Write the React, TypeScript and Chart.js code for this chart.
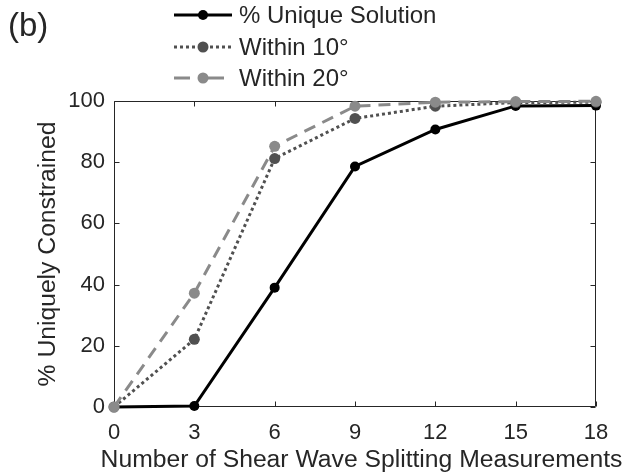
import React, { useEffect, useRef } from "react";
import { Chart, registerables } from "chart.js";

Chart.register(...registerables);

// ---- data ----
const xValues = [0, 3, 6, 9, 12, 15, 18];
const uniqueSolution = [0, 0.3, 39, 78.6, 90.7, 98.4, 98.5];
const within10 = [0, 22.1, 81.2, 94.3, 98.3, 99.5, 99.6];
const within20 = [0, 37.2, 85.2, 98.3, 99.6, 99.8, 99.9];
const seriesLabels = ["% Unique Solution", "Within 10°", "Within 20°"];
const xTicks = [0, 3, 6, 9, 12, 15, 18];
const yTicks = [0, 20, 40, 60, 80, 100];
const panelLabel = "(b)";
const xTitle = "Number of Shear Wave Splitting Measurements";
const yTitle = "% Uniquely Constrained";

const FONT = "'Liberation Sans', Arial, Helvetica, sans-serif";
const TEXT = "#262626";
const TITLE_SIZE = 24.7;

const styles = [
  { color: "#000000", dash: [] as number[], legendDash: [] as number[], width: 3, radius: 5 },
  { color: "#505050", dash: [3, 3], legendDash: [3, 3], width: 3, radius: 5.5 },
  { color: "#8a8a8a", dash: [12, 8], legendDash: [16, 18], width: 3, radius: 5.5 },
];

const boxPlugin = {
  id: "boxAxes",
  beforeDatasetsDraw(chart: any) {
    const { ctx, chartArea: a, scales } = chart;
    ctx.save();
    ctx.strokeStyle = TEXT;
    ctx.lineWidth = 1;
    const L = Math.round(a.left) + 0.5;
    const R = Math.round(a.right) - 0.5;
    const T = Math.round(a.top) + 0.5;
    const B = Math.round(a.bottom) - 0.5;
    ctx.beginPath();
    ctx.rect(L, T, R - L, B - T);
    ctx.stroke();
    const tl = 5;
    ctx.beginPath();
    xTicks.forEach((v) => {
      const px = Math.round(scales.x.getPixelForValue(v)) + 0.5;
      ctx.moveTo(px, B);
      ctx.lineTo(px, B - tl);
      ctx.moveTo(px, T);
      ctx.lineTo(px, T + tl);
    });
    yTicks.forEach((v) => {
      const py = Math.round(scales.y.getPixelForValue(v)) + 0.5;
      ctx.moveTo(L, py);
      ctx.lineTo(L + tl, py);
      ctx.moveTo(R, py);
      ctx.lineTo(R - tl, py);
    });
    ctx.stroke();
    ctx.restore();
  },
  afterDraw(chart: any) {
    const { ctx, chartArea: a } = chart;
    ctx.save();
    // panel label
    ctx.fillStyle = TEXT;
    ctx.font = `33px ${FONT}`;
    ctx.textBaseline = "middle";
    ctx.textAlign = "left";
    ctx.fillText(panelLabel, 8, 27);
    // x axis title (drawn here so it can be wider than the plot area)
    ctx.font = `${TITLE_SIZE}px ${FONT}`;
    ctx.textAlign = "center";
    ctx.fillText(xTitle, (a.left + a.right) / 2 + 6.5, 460);
    ctx.textAlign = "left";
    // legend
    const rows = [15, 47, 78];
    const x0 = 174, x1 = 232, xm = 203, xt = 239;
    seriesLabels.forEach((lab, i) => {
      const s = styles[i];
      const y = rows[i];
      ctx.strokeStyle = s.color;
      ctx.lineWidth = s.width;
      ctx.setLineDash(s.legendDash);
      ctx.beginPath();
      ctx.moveTo(x0, y);
      ctx.lineTo(x1, y);
      ctx.stroke();
      ctx.setLineDash([]);
      ctx.fillStyle = s.color;
      ctx.beginPath();
      ctx.arc(xm, y, s.radius, 0, Math.PI * 2);
      ctx.fill();
      ctx.fillStyle = TEXT;
      ctx.font = `24px ${FONT}`;
      ctx.textBaseline = "middle";
      ctx.fillText(lab, xt, y + 1);
    });
    ctx.restore();
  },
};

export default function App() {
  const ref = useRef<HTMLCanvasElement | null>(null);
  useEffect(() => {
    if (!ref.current) return;
    const series = [uniqueSolution, within10, within20];
    const orders = [2, 1, 0];
    const chart = new Chart(ref.current, {
      type: "line",
      data: {
        datasets: series.map((vals, i) => ({
          label: seriesLabels[i],
          data: xValues.map((x, j) => ({ x, y: vals[j] })),
          borderColor: styles[i].color,
          backgroundColor: styles[i].color,
          pointBackgroundColor: styles[i].color,
          pointBorderColor: styles[i].color,
          pointRadius: styles[i].radius,
          pointBorderWidth: 0,
          borderWidth: styles[i].width,
          borderDash: styles[i].dash,
          borderCapStyle: "butt",
          tension: 0,
          fill: false,
          clip: false,
          order: orders[i],
        })) as any,
      },
      options: {
        animation: false,
        responsive: false,
        devicePixelRatio: 1,
        layout: { padding: { left: 0, top: 101, right: 31, bottom: 0 } },
        plugins: {
          legend: { display: false },
          tooltip: { enabled: false },
        },
        scales: {
          x: {
            type: "linear",
            min: 0,
            max: 18,
            afterFit: (s: any) => {
              s.height = 68;
            },
            afterBuildTicks: (s: any) => {
              s.ticks = xTicks.map((v) => ({ value: v }));
            },
            grid: { display: false, drawTicks: false },
            border: { display: false },
            ticks: {
              padding: 13,
              color: TEXT,
              font: { family: FONT, size: 22 },
              maxRotation: 0,
            },
            title: { display: false, text: xTitle },
          },
          y: {
            type: "linear",
            min: 0,
            max: 100,
            afterFit: (s: any) => {
              s.width = 114;
            },
            afterBuildTicks: (s: any) => {
              s.ticks = yTicks.map((v) => ({ value: v }));
            },
            grid: { display: false, drawTicks: false },
            border: { display: false },
            ticks: {
              padding: 9,
              color: TEXT,
              font: { family: FONT, size: 22 },
            },
            title: {
              display: true,
              text: yTitle,
              color: TEXT,
              font: { family: FONT, size: TITLE_SIZE },
              padding: { top: 33, bottom: 0 },
            },
          },
        },
      },
      plugins: [boxPlugin],
    });
    return () => chart.destroy();
  }, []);
  return (
    <div style={{ position: "absolute", left: 0, top: 0, width: 627, height: 475, background: "#fff" }}>
      <canvas ref={ref} width={627} height={475} />
    </div>
  );
}
